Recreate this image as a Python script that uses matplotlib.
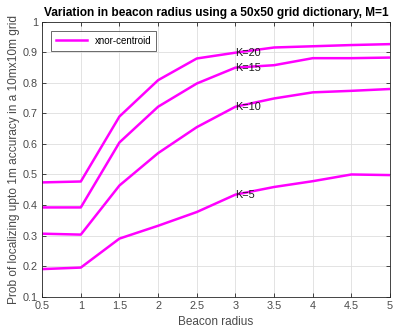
import matplotlib
matplotlib.use("Agg")
import matplotlib.pyplot as plt

plt.rcParams['font.family'] = ['Liberation Sans', 'DejaVu Sans']

radius = [0.5, 1, 1.5, 2, 2.5, 3, 3.5, 4, 4.5, 5]
k20 = [0.474, 0.477, 0.690, 0.809, 0.880, 0.899, 0.916, 0.920, 0.924, 0.927]
k15 = [0.392, 0.392, 0.605, 0.722, 0.798, 0.850, 0.858, 0.881, 0.881, 0.883]
k10 = [0.306, 0.303, 0.464, 0.570, 0.655, 0.722, 0.749, 0.769, 0.774, 0.780]
k5 = [0.190, 0.195, 0.290, 0.332, 0.377, 0.434, 0.459, 0.478, 0.500, 0.498]
series = [("K=20", k20), ("K=15", k15), ("K=10", k10), ("K=5", k5)]
label_x = 3

fig = plt.figure(figsize=(3.94, 3.31), dpi=100)
ax = fig.add_axes([0.107, 0.104, 0.883, 0.830])

dark = '#262626'
tick_grey = '#4a4a4a'
for i, (name, vals) in enumerate(series):
    ax.plot(radius, vals, color='#ff00ff', lw=1.8,
            label='xnor-centroid' if i == 0 else None)
    ax.text(label_x, vals[radius.index(label_x)], name, fontsize=7.8,
            ha='left', va='center', color='#1a1a1a')

ax.set_xlim(0.5, 5)
ax.set_ylim(0.1, 1.0)
ax.set_xticks([0.5, 1, 1.5, 2, 2.5, 3, 3.5, 4, 4.5, 5])
ax.set_xticklabels(['0.5', '1', '1.5', '2', '2.5', '3', '3.5', '4', '4.5', '5'])
ax.set_yticks([0.1, 0.2, 0.3, 0.4, 0.5, 0.6, 0.7, 0.8, 0.9, 1.0])
ax.set_yticklabels(['0.1', '0.2', '0.3', '0.4', '0.5', '0.6', '0.7', '0.8', '0.9', '1'])
ax.grid(True, color='#dedede', lw=0.6)
ax.set_axisbelow(True)
ax.tick_params(direction='in', length=3, width=0.6, colors=dark,
               labelcolor=tick_grey, labelsize=7.8,
               top=True, right=True, pad=3)
for s in ax.spines.values():
    s.set_color(dark)
    s.set_linewidth(0.6)

ax.set_title('Variation in beacon radius using a 50x50 grid dictionary, M=1',
             fontsize=8.6, fontweight='bold', pad=4)
ax.set_xlabel('Beacon radius', fontsize=8.5, color=tick_grey, labelpad=4)
ax.set_ylabel('Prob of localizing upto 1m accuracy in a 10mx10m grid',
              fontsize=8.6, color=tick_grey, labelpad=2)

leg = ax.legend(loc='upper left', fontsize=7, frameon=True, fancybox=False,
                edgecolor=dark, handlelength=3.2, borderpad=0.5,
                bbox_to_anchor=(0.012, 0.985))
leg.get_frame().set_linewidth(0.6)

fig.savefig('out.png', dpi=100, facecolor='white')
